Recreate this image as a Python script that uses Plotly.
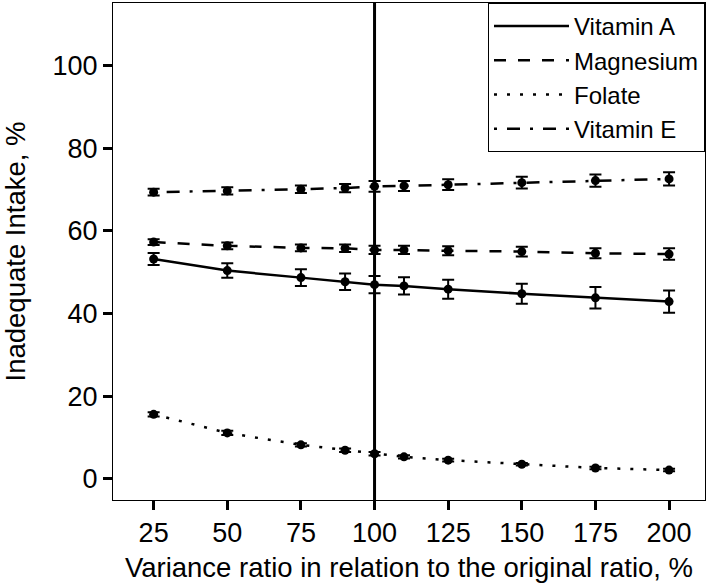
import plotly.graph_objects as go

ratio = [25, 50, 75, 90, 100, 110, 125, 150, 175, 200]
tick_ratio = [25, 50, 75, 100, 125, 150, 175, 200]
tick_pct = [0, 20, 40, 60, 80, 100]

vit_a = [53.2, 50.4, 48.7, 47.7, 47.0, 46.7, 45.9, 44.8, 43.8, 42.9]
vit_a_err = [1.45, 1.75, 2.0, 2.0, 2.1, 2.1, 2.3, 2.4, 2.6, 2.7]

magnesium = [57.3, 56.4, 55.9, 55.8, 55.4, 55.4, 55.2, 55.0, 54.6, 54.4]
magnesium_err = [0.7, 0.8, 0.8, 0.9, 1.0, 1.0, 1.1, 1.2, 1.2, 1.4]

folate = [15.6, 11.1, 8.2, 6.9, 6.05, 5.3, 4.5, 3.5, 2.6, 2.1]
folate_err = [0.5, 0.5, 0.4, 0.4, 0.4, 0.4, 0.35, 0.3, 0.3, 0.3]

vit_e = [69.4, 69.7, 70.1, 70.4, 70.8, 70.9, 71.2, 71.7, 72.2, 72.6]
vit_e_err = [0.8, 0.9, 0.9, 1.0, 1.3, 1.2, 1.3, 1.4, 1.5, 1.6]

series = [
    ("Vitamin A", vit_a, vit_a_err, "solid"),
    ("Magnesium", magnesium, magnesium_err, "12px,12px"),
    ("Folate", folate, folate_err, "3px,10px"),
    ("Vitamin E", vit_e, vit_e_err, "3px,10px,13px,10px"),
]

FONT = "Liberation Sans, Arial, sans-serif"

fig = go.Figure()
for name, y, err, dash in series:
    fig.add_trace(
        go.Scatter(
            x=ratio,
            y=y,
            name=name,
            mode="lines+markers",
            line=dict(color="black", width=2.5, dash=dash),
            marker=dict(color="black", size=9),
            error_y=dict(type="data", array=err, color="black", thickness=2, width=6),
            showlegend=False,
        )
    )
    # line-only entry so the legend shows just the line style
    fig.add_trace(
        go.Scatter(
            x=[None],
            y=[None],
            name=name,
            mode="lines",
            line=dict(color="black", width=2.5, dash=dash),
        )
    )

# reference line at the original ratio
fig.add_vline(x=100, line_color="black", line_width=3)

axis_style = dict(
    showline=True,
    mirror=True,
    linecolor="black",
    linewidth=1,
    ticks="outside",
    ticklen=9,
    tickwidth=2.5,
    tickcolor="black",
    showgrid=False,
    zeroline=False,
    automargin=False,
    tickfont=dict(size=27, color="black"),
)

fig.update_xaxes(
    **axis_style,
    range=[11.2, 212.2],
    tickvals=tick_ratio,
    title=dict(text="Variance ratio in relation to the original ratio, %",
               font=dict(size=27.5, color="black"), standoff=10),
)
fig.update_yaxes(
    **axis_style,
    range=[-5.15, 115.2],
    tickvals=tick_pct,
    title=dict(text="Inadequate Intake, %", font=dict(size=27.5, color="black"), standoff=19),
)

fig.update_layout(
    width=713,
    height=586,
    margin=dict(l=113, r=8, t=3, b=86),
    plot_bgcolor="white",
    paper_bgcolor="white",
    font=dict(family=FONT, color="black"),
    legend=dict(
        x=1, y=1, xanchor="right", yanchor="top",
        bordercolor="black", borderwidth=1,
        bgcolor="white",
        font=dict(size=24, color="black"),
        itemwidth=75,
        tracegroupgap=0,
    ),
)

# page has a default 8px body margin; drop it so the figure sits at the corner
fig.write_html(
    "out.html",
    config={"displayModeBar": False},
    post_script="document.body.style.margin='0';",
)
